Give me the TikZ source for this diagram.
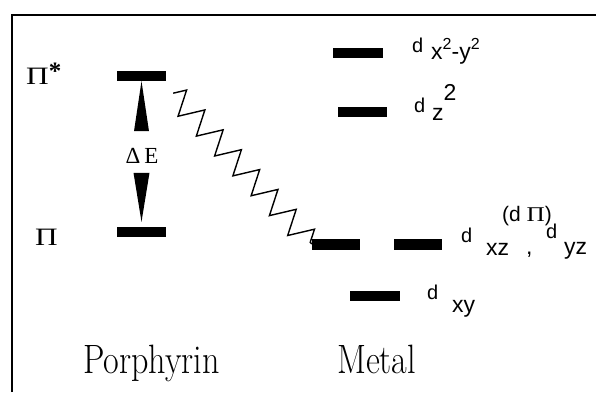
\documentclass[tikz,border=0pt]{standalone}
\usepackage{fontspec}
\newfontfamily\labfont{Liberation Sans}
\newfontfamily\serfont{Liberation Serif}
\usetikzlibrary{decorations.pathmorphing}

\tikzset{
  level/.style={fill=black, inner sep=0pt, minimum width=49pt, minimum height=10pt},
  dlab/.style={font=\labfont\fontsize{20}{20}\selectfont, inner sep=0pt, anchor=base west},
  sublab/.style={font=\labfont\fontsize{23}{23}\selectfont, inner sep=0pt, anchor=base west},
  greek/.style={font=\serfont\fontsize{25}{25}\selectfont, inner sep=0pt, anchor=base west},
  bigname/.style={font=\fontsize{41}{41}\selectfont, inner sep=0pt, anchor=base west},
}
\newcommand{\sqr}[1]{\raisebox{#1}{\fontsize{16}{16}\selectfont 2}}

\begin{document}
\begin{tikzpicture}[x=1pt, y=-1pt]
\useasboundingbox (0,0) rectangle (596,392);
\draw[line width=2.5pt] (12,392) -- (12,15) -- (596,15);

% porphyrin side
\node[level] (pistar) at (141.5,76) {};
\node[level] (pi) at (141.5,232) {};
\node[greek] (pistarlab) at (26,84) {\scalebox{1.25}[1]{Π}\raisebox{5pt}{\bfseries *}};
\node[greek] (pilab) at (35,245) {\scalebox{1.25}[1]{Π}};
\node[font=\serfont\fontsize{23}{23}\selectfont, inner sep=0pt] (gap) at (142,156) {Δ\,E};
\fill (pistar.south) -- ++(-7.5,50) -- ++(15,0) -- cycle;
\fill ([yshift=5pt]pi.north) -- ++(-8,-49) -- ++(16,0) -- cycle;

% metal d levels
\node[level, minimum width=50pt] (dxy2) at (358,53) {};
\node[level] (dz2) at (362.5,112) {};
\node[level, minimum width=48pt, minimum height=11pt] (dxz) at (336,244) {};
\node[level, minimum width=48pt, minimum height=11pt] (dyz) at (418,244) {};
\node[level, minimum width=50pt] (dxy) at (375,296) {};

\node[dlab] (dxy2d) at (412,52) {d};
\node[sublab] (dxy2s) at (431,59) {x\sqr{10pt}-y\sqr{10pt}};
\node[dlab] (dz2d) at (414,112) {d};
\node[sublab] (dz2s) at (432,120) {z\raisebox{20pt}{2}};
\node[dlab] (dxzd) at (461,242) {d};
\node[sublab] (dxzs) at (486,255) {xz};
\node[sublab] (comma) at (526,254) {,};
\node[dlab] (dyzd) at (546,238) {d};
\node[sublab] (dyzs) at (564,254) {yz};
\node[font=\labfont\fontsize{21}{21}\selectfont, inner sep=0pt, anchor=base west] (dpi) at (502,221)
  {(d\ {\serfont\scalebox{1.2}[1]{Π}})};
\node[dlab] (dxyd) at (427,299) {d};
\node[sublab] (dxys) at (452,312) {xy};

% relaxation path
\draw[line width=1.4pt, line join=miter, decorate, decoration={zigzag, amplitude=12pt, segment length=27pt}]
  ([xshift=7pt, yshift=-12pt]pistar.south east) -- (dxz.west);

% column names
\node[bigname] (porph) at (83,373) {\scalebox{0.83}[1]{Porphyrin}};
\node[bigname] (metal) at (337,373) {\scalebox{0.83}[1]{Metal}};
\end{tikzpicture}
\end{document}
